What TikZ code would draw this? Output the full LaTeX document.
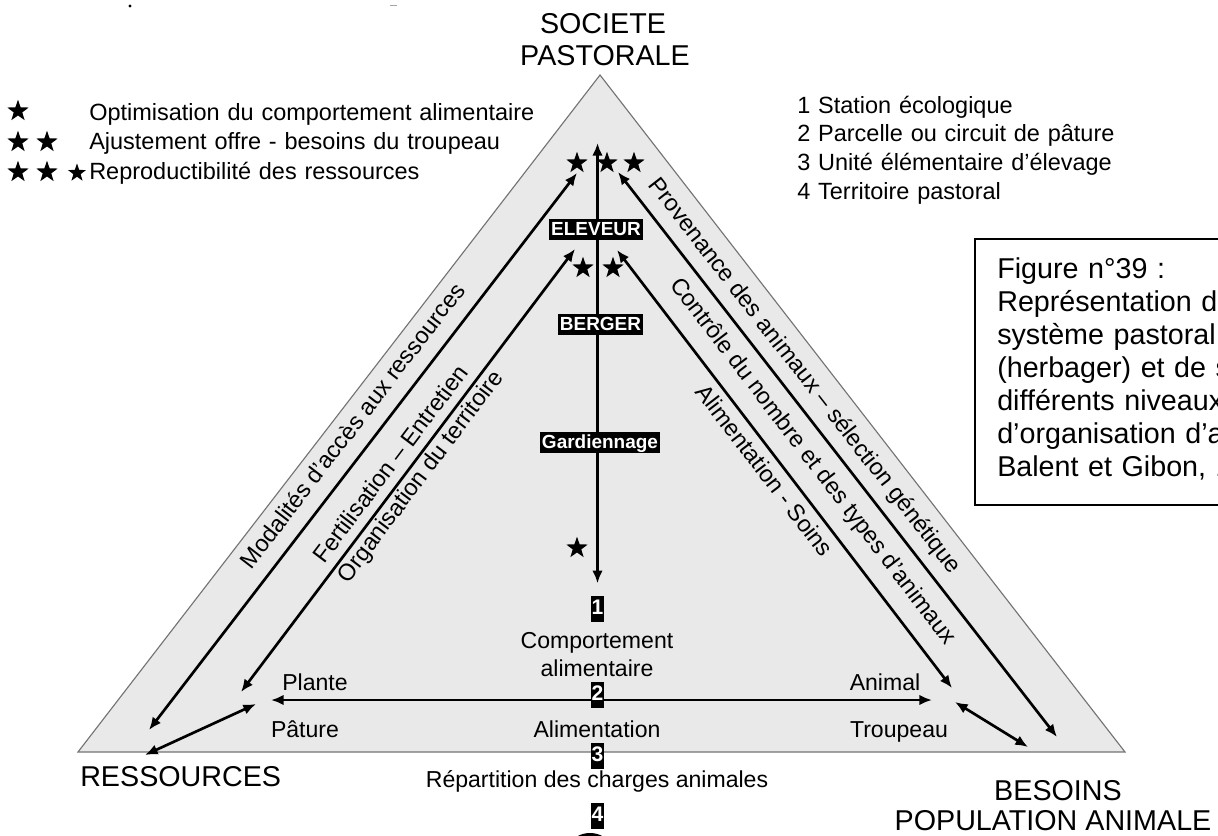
\documentclass[tikz,border=0pt]{standalone}
\usepackage{fontspec}
\setmainfont{Liberation Sans}
\usetikzlibrary{arrows.meta, shapes.geometric}

\definecolor{fondtri}{RGB}{233,233,233}
\definecolor{bordtri}{RGB}{115,115,115}

\begin{document}
\begin{tikzpicture}[
    x=0.025cm, y=-0.025cm,
    pole/.style={font=\fontsize{20.4}{24}\selectfont, inner sep=0pt},
    legende/.style={font=\fontsize{16.7}{21.3}\selectfont, inner sep=0pt, text width=12cm, align=left},
    etiq/.style={font=\fontsize{16.4}{19.9}\selectfont, inner sep=0pt},
    oblique/.style={font=\fontsize{16.7}{20}\selectfont, inner sep=0pt, sloped},
    plaque/.style={fill=black, text=white, font=\bfseries\fontsize{13.5}{15}\selectfont, inner xsep=1.2pt, inner ysep=1.3pt, text height=10.5pt, text depth=2pt},
    niveau/.style={fill=black, text=white, font=\bfseries\fontsize{15}{17}\selectfont, inner xsep=0.5pt, inner ysep=1.5pt, text height=12pt, text depth=3.5pt},
    etoile/.style={star, star points=5, star point ratio=2.5, fill=black, inner sep=0pt, minimum size=16pt},
    fleche/.style={<->, >={Latex[length=9pt,width=7.5pt]}, line width=1.9pt}
  ]
  \useasboundingbox (0,0) rectangle (1218,836);

  % triangle
  \coordinate (apex) at (600,75);
  \coordinate (coinG) at (78,752);
  \coordinate (coinD) at (1125,752);
  \filldraw[fill=fondtri, draw=bordtri, line width=0.8pt] (apex) -- (coinG) -- (coinD) -- cycle;

  \node[pole, anchor=base] (societe) at (603,33) {SOCIETE};
  \node[pole, anchor=base] (pastorale) at (605,65) {PASTORALE};
  \node[pole, anchor=base west] (ressources) at (80,786) {RESSOURCES};
  \node[pole, anchor=base] (besoins) at (1058,800) {BESOINS};
  \node[pole, anchor=base] (population) at (1053,830) {POPULATION ANIMALE};

  % legends
  \node[etoile] (leg1a) at (18,111) {};
  \node[etoile] (leg2a) at (18,142) {};
  \node[etoile] (leg2b) at (47,142) {};
  \node[etoile] (leg3a) at (18,172) {};
  \node[etoile] (leg3b) at (47,172) {};
  \node[etoile, minimum size=13.5pt] (leg3c) at (77,173) {};
  \node[legende, anchor=base west] (objectifs) at (89,120) {Optimisation du comportement alimentaire\\Ajustement offre - besoins du troupeau\\Reproductibilité des ressources};
  \node[legende, anchor=base west, font=\fontsize{16.7}{20.4}\selectfont] (niveaux) at (797,113) {1 Station écologique\\2 Parcelle ou circuit de pâture\\3 Unité élémentaire d'élevage\\4 Territoire pastoral};

  \draw[line width=0.9pt] (975,239) rectangle (1240,505);
  \node[anchor=base west, inner sep=0pt, text width=10cm, align=left, font=\fontsize{20.4}{23.5}\selectfont] (figtexte) at (997,278) {Figure n°39 :\\Représentation d\\système pastoral\\(herbager) et de s\\différents niveaux\\d'organisation d'a\\Balent et Gibon, 1};

  % arrows
  \coordinate (m1h) at (577,173);
  \coordinate (m1b) at (149,730);
  \coordinate (m2h) at (575,249);
  \coordinate (m2b) at (241,692);
  \coordinate (cgh) at (256,704);
  \coordinate (cgb) at (145,755);
  \coordinate (hg) at (271,700);
  \coordinate (hd) at (932,700);
  \coordinate (m4h) at (617,250);
  \coordinate (m4b) at (952,688);
  \coordinate (m5h) at (618,172);
  \coordinate (m5b) at (1057,737);
  \coordinate (cdh) at (955,702);
  \coordinate (cdb) at (1028,747);
  \coordinate (vh) at (597.5,143);

  \draw[fleche] (m1b) -- (m1h) node[oblique, pos=0.52, above=10.3pt] (modalites) {Modalités d'accès aux ressources};
  \draw[fleche] (m2b) -- (m2h)
    node[oblique, pos=0.49, above=6pt] (fertilisation) {Fertilisation – Entretien}
    node[oblique, pos=0.505, below=1.8pt] (organisation) {Organisation du territoire};
  \draw[fleche] (cgb) -- (cgh);
  \draw[fleche] (hg) -- (hd);
  \draw[fleche] (m5h) -- (m5b) node[oblique, pos=0.385, above=6.5pt] (provenance) {Provenance des animaux – sélection génétique};
  \draw[fleche] (m4h) -- (m4b)
    node[oblique, pos=0.52, above=10pt] (controle) {Contrôle du nombre et des types d'animaux}
    node[oblique, pos=0.48, below=4.6pt] (soins) {Alimentation - Soins};
  \draw[fleche] (cdh) -- (cdb);

  \node[niveau] (n1) at (597.5,608.5) {1};
  \draw[fleche, shorten <=8.5pt] (n1) -- (vh);
  \node[plaque] (eleveur) at (596,229.5) {ELEVEUR};
  \node[plaque] (berger) at (600.5,324.5) {BERGER};
  \node[plaque] (gardiennage) at (600,442.5) {Gardiennage};

  \node[etoile] (haut1) at (577,163) {};
  \node[etoile] (haut2) at (607,163) {};
  \node[etoile] (haut3) at (634,163) {};
  \node[etoile] (milieu1) at (583,268) {};
  \node[etoile] (milieu2) at (613,268) {};
  \node[etoile] (bas1) at (577,548) {};

  % levels
  \node[etiq, align=center] (comportement) at (597,655) {Comportement\\alimentaire};
  \node[niveau] (n2) at (597.5,695) {2};
  \node[etiq, anchor=base] (plante) at (315,690) {Plante};
  \node[etiq, anchor=base] (animal) at (885,690) {Animal};
  \node[etiq, anchor=base] (pature) at (305,737) {Pâture};
  \node[etiq, anchor=base] (alimentation) at (597,737) {Alimentation};
  \node[etiq, anchor=base] (troupeau) at (899,737) {Troupeau};
  \node[niveau] (n3) at (597.5,756) {3};
  \node[etiq, anchor=base] (repartition) at (597,787) {Répartition des charges animales};
  \node[niveau] (n4) at (597.5,816) {4};

  \fill (590,846) ellipse [x radius=19, y radius=13];
  \fill (130,6) circle [radius=1.6];
  \draw[black!35, line width=0.6pt] (390,5) -- (397,5);
\end{tikzpicture}
\end{document}
